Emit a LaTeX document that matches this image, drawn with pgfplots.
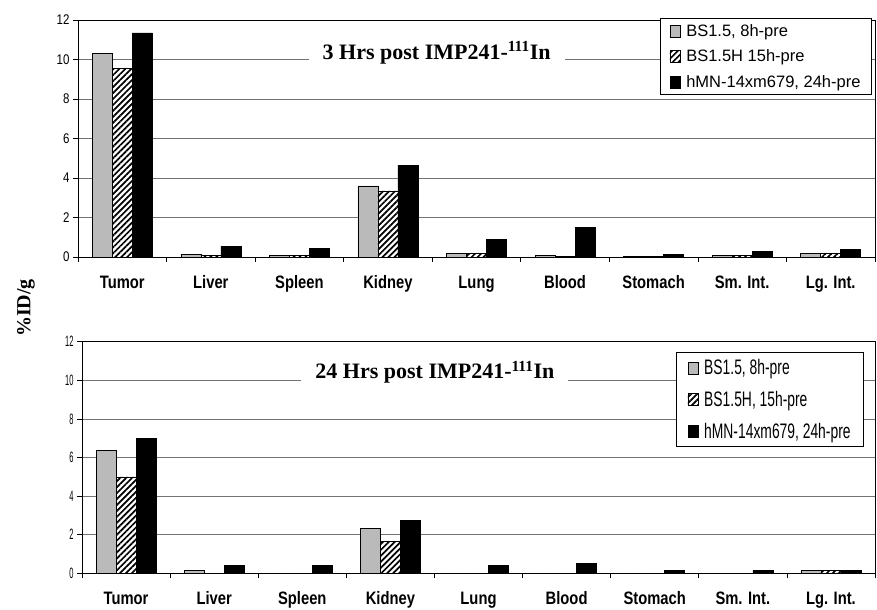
\documentclass[border=0pt]{standalone}
\usepackage{fontspec}
\setmainfont{Liberation Sans}
\newfontfamily\narrowf[FakeStretch=0.82]{Liberation Sans}
\newfontfamily\vnarrowf[FakeStretch=0.66]{Liberation Sans}
\newfontfamily\xnarrowf[FakeStretch=0.5]{Liberation Sans}
\newfontfamily\seriff{Liberation Serif}
\usepackage{pgfplots}
\pgfplotsset{compat=1.18}
\usetikzlibrary{patterns,patterns.meta}
\definecolor{lgray}{gray}{0.73}

\tikzset{ttl/.style={fill=white, inner xsep=14bp, inner ysep=2bp, font=\seriff\bfseries\fontsize{22bp}{22bp}\selectfont}}

\pgfplotsset{
  organ/.style={
    scale only axis, anchor=south west,
    ybar=0pt, bar width=20bp,
    xmin=-0.5, xmax=8.5, ymin=0, ymax=12,
    xtick={-0.5,0.5,...,8.5}, xticklabels={},
    extra x ticks={0,1,2,3,4,5,6,7,8},
    extra x tick labels={Tumor,Liver,Spleen,Kidney,Lung,Blood,Stomach,Sm. Int.,Lg. Int.},
    extra x tick style={major tick length=0pt, grid=none,
      xticklabel style={font=\narrowf\bfseries\fontsize{18bp}{18bp}\selectfont,
        text height=13bp, text depth=4bp, yshift=-15bp}},
    ytick={0,2,...,12},
    ymajorgrids, grid style={black!55, line width=0.6pt},
    axis line style={black, line width=0.8pt},
    tick align=outside, tick pos=left, major tick length=5bp,
    tick style={black, line width=0.6pt},
    /pgf/number format/assume math mode=true,
    legend cell align=left,
    every axis plot post/.append style={
      legend image code/.code={\path[draw=none, fill=none, postaction={}] (0bp,0bp) (14bp,0bp);
        \draw[##1, line width=0.5pt] (0bp,-6bp) rectangle (10bp,6bp);}},
  },
  graybar/.style={draw=black, line width=0.6pt, fill=lgray},
  hatchbar/.style={draw=black, line width=0.6pt, fill=white,
    postaction={pattern={Lines[angle=45, distance=4.2bp, line width=1.7bp]}}},
  blackbar/.style={draw=black, line width=0.6pt, fill=black},
}

\begin{document}
\begin{tikzpicture}
\useasboundingbox (0,0) rectangle (877bp,610bp);

% ---------- top: 3 h ----------
\begin{axis}[organ, at={(78bp,353bp)}, width=797bp, height=237bp,
  yticklabel style={font=\narrowf\fontsize{14bp}{14bp}\selectfont},
  legend style={at={(rel axis cs:0.996,1.008)}, anchor=north east,
    draw=black, line width=0.6pt, fill=white,
    font=\fontsize{16.5bp}{18bp}\selectfont, row sep=8bp,
    inner xsep=9bp, inner ysep=4bp}]
\addplot[graybar] coordinates {(0,10.3) (1,0.15) (2,0.1) (3,3.6) (4,0.2) (5,0.1) (6,0.02) (7,0.1) (8,0.2)};
\addplot[hatchbar] coordinates {(0,9.55) (1,0.08) (2,0.08) (3,3.35) (4,0.2) (5,0.02) (6,0.02) (7,0.1) (8,0.2)};
\addplot[blackbar] coordinates {(0,11.35) (1,0.55) (2,0.45) (3,4.65) (4,0.9) (5,1.5) (6,0.12) (7,0.3) (8,0.4)};
\legend{BS1.5{,} 8h-pre, BS1.5H 15h-pre, hMN-14xm679{,} 24h-pre}
\node[ttl] at (rel axis cs:0.45,0.861) {3 Hrs post IMP241-\textsuperscript{111}In};
\end{axis}

% ---------- bottom: 24 h ----------
\begin{axis}[organ, at={(82bp,36.7bp)}, width=793bp, height=231.6bp,
  yticklabel style={font=\xnarrowf\fontsize{15bp}{15bp}\selectfont},
  legend style={at={(rel axis cs:0.986,0.955)}, anchor=north east,
    draw=black, line width=0.6pt, fill=white,
    font=\vnarrowf\fontsize{21bp}{22bp}\selectfont, row sep=11bp,
    inner xsep=11bp, inner ysep=5bp}]
\addplot[graybar] coordinates {(0,6.38) (1,0.15) (2,0) (3,2.33) (4,0) (5,0) (6,0) (7,0) (8,0.13)};
\addplot[hatchbar] coordinates {(0,5.0) (1,0) (2,0) (3,1.65) (4,0) (5,0) (6,0) (7,0) (8,0.13)};
\addplot[blackbar] coordinates {(0,7.0) (1,0.4) (2,0.4) (3,2.73) (4,0.4) (5,0.52) (6,0.13) (7,0.15) (8,0.13)};
\legend{BS1.5{,} 8h-pre, BS1.5H{,} 15h-pre, hMN-14xm679{,} 24h-pre}
\node[ttl] at (rel axis cs:0.445,0.869) {24 Hrs post IMP241-\textsuperscript{111}In};
\end{axis}

\node[rotate=90, font=\seriff\bfseries\fontsize{20bp}{20bp}\selectfont] at (26bp,302bp) {\%ID/g};
\end{tikzpicture}
\end{document}
